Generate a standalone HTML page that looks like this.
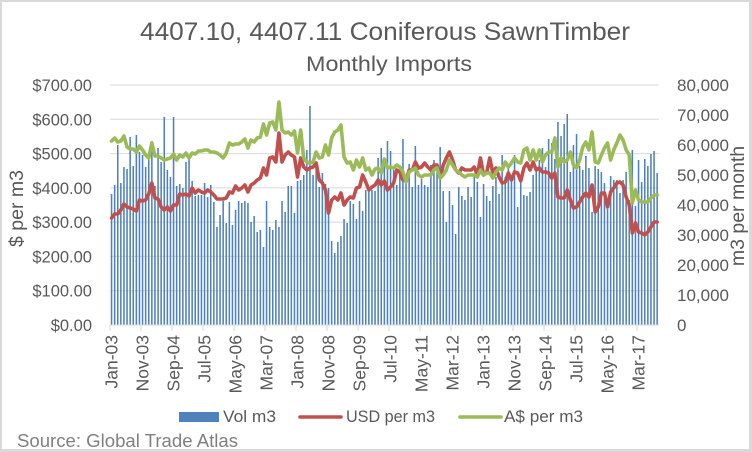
<!DOCTYPE html>
<html>
<head>
<meta charset="utf-8">
<style>
html,body{margin:0;padding:0;background:#fff;}
svg{display:block;}
text{font-family:"Liberation Sans",Arial,sans-serif;}
</style>
</head>
<body>
<svg width="752" height="452" viewBox="0 0 752 452" xmlns="http://www.w3.org/2000/svg">
<rect x="0" y="0" width="752" height="452" fill="#d9d9d9"/>
<rect x="2" y="2" width="747" height="447" fill="#ffffff"/>

<!-- titles -->
<text x="385" y="40" font-size="25" fill="#595959" text-anchor="middle" textLength="490" lengthAdjust="spacingAndGlyphs">4407.10, 4407.11 Coniferous SawnTimber</text>
<text x="389" y="71" font-size="21" fill="#595959" text-anchor="middle" textLength="166" lengthAdjust="spacingAndGlyphs">Monthly Imports</text>

<!-- gridlines -->
<g stroke="#d9d9d9" stroke-width="1">
<line x1="110" x2="659" y1="85" y2="85"/>
<line x1="110" x2="659" y1="119.3" y2="119.3"/>
<line x1="110" x2="659" y1="153.6" y2="153.6"/>
<line x1="110" x2="659" y1="187.9" y2="187.9"/>
<line x1="110" x2="659" y1="222.1" y2="222.1"/>
<line x1="110" x2="659" y1="256.4" y2="256.4"/>
<line x1="110" x2="659" y1="290.7" y2="290.7"/>
</g>

<!-- bars -->
<path transform="translate(110,0) scale(3.1,1)" fill="#4f81bd" d="M0.25,325V194h.5V325m.5,0V185h.5V325m.5,0V145h.5V325m.5,0V183h.5V325m.5,0V167h.5V325m.5,0V169h.5V325m.5,0V137h.5V325m.5,0V166h.5V325m.5,0V135h.5V325m.5,0V152h.5V325m.5,0V155h.5V325m.5,0V167h.5V325m.5,0V153h.5V325m.5,0V141h.5V325m.5,0V186h.5V325m.5,0V148h.5V325m.5,0V162h.5V325m.5,0V117h.5V325m.5,0V170h.5V325m.5,0V177h.5V325m.5,0V117h.5V325m.5,0V186h.5V325m.5,0V184h.5V325m.5,0V188h.5V325m.5,0V162h.5V325m.5,0V157h.5V325m.5,0V181h.5V325m.5,0V196h.5V325m.5,0V195h.5V325m.5,0V195h.5V325m.5,0V183h.5V325m.5,0V197h.5V325m.5,0V185h.5V325m.5,0V202h.5V325m.5,0V227h.5V325m.5,0V215h.5V325m.5,0V201h.5V325m.5,0V223h.5V325m.5,0V202h.5V325m.5,0V225h.5V325m.5,0V210h.5V325m.5,0V201h.5V325m.5,0V203h.5V325m.5,0V201h.5V325m.5,0V203h.5V325m.5,0V222h.5V325m.5,0V216h.5V325m.5,0V232h.5V325m.5,0V230h.5V325m.5,0V247h.5V325m.5,0V201h.5V325m.5,0V227h.5V325m.5,0V230h.5V325m.5,0V220h.5V325m.5,0V227h.5V325m.5,0V201h.5V325m.5,0V212h.5V325m.5,0V186h.5V325m.5,0V186h.5V325m.5,0V213h.5V325m.5,0V181h.5V325m.5,0V180h.5V325m.5,0V175h.5V325m.5,0V150h.5V325m.5,0V106h.5V325m.5,0V175h.5V325m.5,0V165h.5V325m.5,0V187h.5V325m.5,0V173h.5V325m.5,0V184h.5V325m.5,0V188h.5V325m.5,0V241h.5V325m.5,0V253h.5V325m.5,0V242h.5V325m.5,0V236h.5V325m.5,0V219h.5V325m.5,0V223h.5V325m.5,0V201h.5V325m.5,0V204h.5V325m.5,0V219h.5V325m.5,0V201h.5V325m.5,0V211h.5V325m.5,0V190h.5V325m.5,0V187h.5V325m.5,0V190h.5V325m.5,0V191h.5V325m.5,0V158h.5V325m.5,0V148h.5V325m.5,0V160h.5V325m.5,0V141h.5V325m.5,0V151h.5V325m.5,0V170h.5V325m.5,0V185h.5V325m.5,0V170h.5V325m.5,0V139h.5V325m.5,0V183h.5V325m.5,0V164h.5V325m.5,0V187h.5V325m.5,0V146h.5V325m.5,0V185h.5V325m.5,0V179h.5V325m.5,0V185h.5V325m.5,0V187h.5V325m.5,0V165h.5V325m.5,0V160h.5V325m.5,0V172h.5V325m.5,0V147h.5V325m.5,0V191h.5V325m.5,0V222h.5V325m.5,0V191h.5V325m.5,0V205h.5V325m.5,0V234h.5V325m.5,0V187h.5V325m.5,0V196h.5V325m.5,0V200h.5V325m.5,0V187h.5V325m.5,0V197h.5V325m.5,0V176h.5V325m.5,0V182h.5V325m.5,0V217h.5V325m.5,0V184h.5V325m.5,0V196h.5V325m.5,0V201h.5V325m.5,0V186h.5V325m.5,0V177h.5V325m.5,0V194h.5V325m.5,0V155h.5V325m.5,0V177h.5V325m.5,0V168h.5V325m.5,0V180h.5V325m.5,0V155h.5V325m.5,0V207h.5V325m.5,0V180h.5V325m.5,0V195h.5V325m.5,0V196h.5V325m.5,0V192h.5V325m.5,0V175h.5V325m.5,0V170h.5V325m.5,0V160h.5V325m.5,0V148h.5V325m.5,0V167h.5V325m.5,0V139h.5V325m.5,0V143h.5V325m.5,0V159h.5V325m.5,0V122h.5V325m.5,0V136h.5V325m.5,0V124h.5V325m.5,0V114h.5V325m.5,0V172h.5V325m.5,0V145h.5V325m.5,0V134h.5V325m.5,0V166h.5V325m.5,0V170h.5V325m.5,0V156h.5V325m.5,0V168h.5V325m.5,0V212h.5V325m.5,0V166h.5V325m.5,0V169h.5V325m.5,0V172h.5V325m.5,0V183h.5V325m.5,0V209h.5V325m.5,0V176h.5V325m.5,0V180h.5V325m.5,0V180h.5V325m.5,0V193h.5V325m.5,0V180h.5V325m.5,0V172h.5V325m.5,0V200h.5V325m.5,0V150h.5V325m.5,0V206h.5V325m.5,0V160h.5V325m.5,0V182h.5V325m.5,0V159h.5V325m.5,0V166h.5V325m.5,0V154h.5V325m.5,0V151h.5V325m.5,0V173h.5V325m.5,0"/>

<!-- x axis -->
<line x1="110" x2="659" y1="325" y2="325" stroke="#d9d9d9" stroke-width="1"/>
<g stroke="#d9d9d9" stroke-width="1">
<line x1="110" x2="110" y1="325" y2="331"/><line x1="141" x2="141" y1="325" y2="331"/><line x1="172" x2="172" y1="325" y2="331"/><line x1="203" x2="203" y1="325" y2="331"/><line x1="234" x2="234" y1="325" y2="331"/><line x1="265" x2="265" y1="325" y2="331"/><line x1="296" x2="296" y1="325" y2="331"/><line x1="327" x2="327" y1="325" y2="331"/><line x1="358" x2="358" y1="325" y2="331"/><line x1="389" x2="389" y1="325" y2="331"/><line x1="420" x2="420" y1="325" y2="331"/><line x1="451" x2="451" y1="325" y2="331"/><line x1="482" x2="482" y1="325" y2="331"/><line x1="513" x2="513" y1="325" y2="331"/><line x1="544" x2="544" y1="325" y2="331"/><line x1="575" x2="575" y1="325" y2="331"/><line x1="606" x2="606" y1="325" y2="331"/><line x1="637" x2="637" y1="325" y2="331"/>
</g>

<!-- lines -->
<polyline transform="translate(111.55,0) scale(3.1,1)" fill="none" stroke="#c0504d" stroke-width="3.6" stroke-linejoin="round" stroke-linecap="round" vector-effect="non-scaling-stroke" points="0,218 1,214 2,214 3,210 4,204 5,207 6,208 7,209 8,211 9,200 10,201 11,200 12,194 13,183 14,198 15,199 16,207 17,210 18,207 19,211 20,205 21,205 22,194 23,195 24,194 25,196 26,188 27,193 28,190 29,192 30,193 31,190 32,192 33,195 34,199 35,199 36,199 37,198 38,192 39,193 40,186 41,190 42,188 43,185 44,192 45,185 46,183 47,180 48,178 49,168 50,175 51,158 52,157 53,162 54,133 55,162 56,155 57,152 58,155 59,157 60,177 61,158 62,167 63,170 64,168 65,167 66,163 67,180 68,183 69,190 70,213 71,200 72,197 73,200 74,193 75,205 76,200 77,197 78,198 79,188 80,187 81,175 82,182 83,190 84,187 85,185 86,180 87,185 88,181 89,190 90,187 91,183 92,170 93,172 94,180 95,180 96,170 97,170 98,162 99,168 100,167 101,163 102,167 103,170 104,165 105,165 106,178 107,165 108,158 109,152 110,160 111,170 112,173 113,168 114,170 115,170 116,170 117,167 118,175 119,158 120,175 121,173 122,158 123,173 124,168 125,177 126,183 127,182 128,173 129,180 130,172 131,173 132,181 133,168 134,163 135,170 136,162 137,170 138,168 139,172 140,172 141,173 142,178 143,173 144,197 145,198 146,198 147,190 148,200 149,208 150,207 151,202 152,197 153,193 154,197 155,185 156,212 157,207 158,193 159,193 160,207 161,192 162,188 163,183 164,182 165,185 166,197 167,205 168,233 169,223 170,232 171,233 172,235 173,232 174,227 175,222 176,222"/>
<polyline transform="translate(111.55,0) scale(3.1,1)" fill="none" stroke="#9bbb59" stroke-width="3.6" stroke-linejoin="round" stroke-linecap="round" vector-effect="non-scaling-stroke" points="0,141 1,138 2,142 3,141 4,136 5,147 6,149 7,149 8,152 9,146 10,150 11,155 12,158 13,143 14,156 15,156 16,158 17,160 18,159 19,158 20,154 21,160 22,155 23,157 24,153 25,158 26,153 27,154 28,151 29,151 30,150 31,150 32,152 33,152 34,153 35,155 36,158 37,153 38,143 39,145 40,144 41,144 42,142 43,139 44,148 45,140 46,142 47,138 48,137 49,124 50,135 51,123 52,122 53,130 54,102 55,130 56,133 57,132 58,135 59,131 60,153 61,130 62,158 63,162 64,163 65,162 66,152 67,158 68,157 69,145 70,155 71,138 72,132 73,130 74,125 75,157 76,163 77,162 78,170 79,160 80,167 81,158 82,170 83,168 84,175 85,169 86,168 87,173 88,159 89,168 90,167 91,168 92,165 93,167 94,172 95,182 96,172 97,170 98,168 99,175 100,177 101,175 102,175 103,175 104,170 105,168 106,178 107,175 108,170 109,160 110,165 111,170 112,172 113,175 114,177 115,175 116,175 117,175 118,177 119,170 120,175 121,173 122,173 123,178 124,172 125,168 126,170 127,162 128,167 129,163 130,158 131,162 132,163 133,150 134,148 135,160 136,150 137,160 138,150 139,162 140,155 141,152 142,152 143,138 144,167 145,158 146,162 147,160 148,152 149,165 150,168 151,160 152,147 153,142 154,150 155,132 156,162 157,163 158,155 159,148 160,143 161,160 162,150 163,143 164,135 165,140 166,150 167,155 168,203 169,190 170,200 171,202 172,202 173,202 174,198 175,195 176,195"/>

<!-- left axis labels -->
<g font-size="16.5" fill="#595959" text-anchor="end">
<text x="92" y="91">$700.00</text>
<text x="92" y="125.3">$600.00</text>
<text x="92" y="159.6">$500.00</text>
<text x="92" y="193.9">$400.00</text>
<text x="92" y="228.1">$300.00</text>
<text x="92" y="262.4">$200.00</text>
<text x="92" y="296.7">$100.00</text>
<text x="92" y="331">$0.00</text>
</g>

<!-- right axis labels -->
<g font-size="17" fill="#595959">
<text x="677" y="91">80,000</text>
<text x="677" y="121">70,000</text>
<text x="677" y="151">60,000</text>
<text x="677" y="181">50,000</text>
<text x="677" y="211">40,000</text>
<text x="677" y="241">30,000</text>
<text x="677" y="271">20,000</text>
<text x="677" y="301">10,000</text>
<text x="677" y="331">0</text>
</g>

<!-- axis titles -->
<text transform="translate(23,208.5) rotate(-90)" font-size="19.5" fill="#595959" text-anchor="middle">$ per m3</text>
<text transform="translate(744,206) rotate(-90)" font-size="19.5" fill="#595959" text-anchor="middle">m3 per month</text>

<!-- x labels -->
<g font-size="17.5" fill="#595959" text-anchor="end">
<text transform="translate(117.5,335) rotate(-90)">Jan-03</text>
<text transform="translate(148.5,335) rotate(-90)">Nov-03</text>
<text transform="translate(179.5,335) rotate(-90)">Sep-04</text>
<text transform="translate(210.5,335) rotate(-90)">Jul-05</text>
<text transform="translate(241.5,335) rotate(-90)">May-06</text>
<text transform="translate(272.5,335) rotate(-90)">Mar-07</text>
<text transform="translate(303.5,335) rotate(-90)">Jan-08</text>
<text transform="translate(334.5,335) rotate(-90)">Nov-08</text>
<text transform="translate(365.5,335) rotate(-90)">Sep-09</text>
<text transform="translate(396.5,335) rotate(-90)">Jul-10</text>
<text transform="translate(427.5,335) rotate(-90)">May-11</text>
<text transform="translate(458.5,335) rotate(-90)">Mar-12</text>
<text transform="translate(489.5,335) rotate(-90)">Jan-13</text>
<text transform="translate(520.5,335) rotate(-90)">Nov-13</text>
<text transform="translate(551.5,335) rotate(-90)">Sep-14</text>
<text transform="translate(582.5,335) rotate(-90)">Jul-15</text>
<text transform="translate(613.5,335) rotate(-90)">May-16</text>
<text transform="translate(644.5,335) rotate(-90)">Mar-17</text>
</g>

<!-- legend -->
<rect x="179" y="412" width="40" height="10" fill="#4f81bd"/>
<text x="223" y="422" font-size="17" fill="#595959" textLength="53" lengthAdjust="spacingAndGlyphs">Vol m3</text>
<line x1="300" x2="341" y1="417" y2="417" stroke="#c0504d" stroke-width="3.6" stroke-linecap="round"/>
<text x="346" y="422" font-size="17" fill="#595959" textLength="89" lengthAdjust="spacingAndGlyphs">USD per m3</text>
<line x1="460" x2="501" y1="417" y2="417" stroke="#9bbb59" stroke-width="3.6" stroke-linecap="round"/>
<text x="504" y="422" font-size="17" fill="#595959" textLength="79" lengthAdjust="spacingAndGlyphs">A$ per m3</text>

<!-- source -->
<text x="17" y="447" font-size="18" fill="#808080" textLength="221" lengthAdjust="spacingAndGlyphs">Source: Global Trade Atlas</text>
</svg>
</body>
</html>
